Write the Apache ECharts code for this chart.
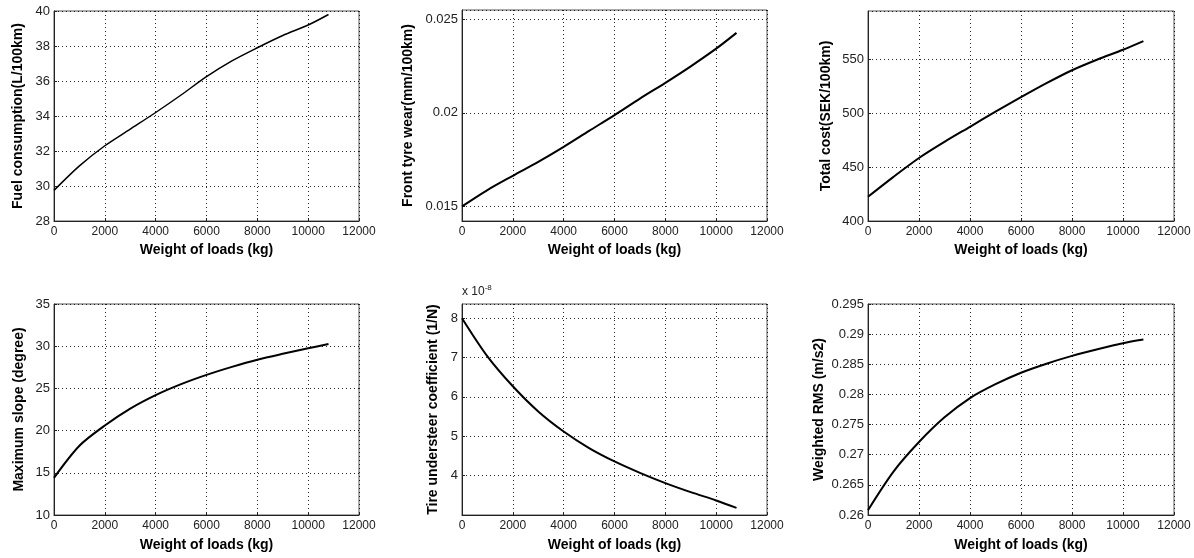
<!DOCTYPE html>
<html>
<head>
<meta charset="utf-8">
<script src="https://cdn.jsdelivr.net/npm/echarts@6/dist/echarts.min.js"></script>
<style>
html,body{margin:0;padding:0;background:#fff;}
#c{width:1194px;height:558px;}
</style>
</head>
<body>
<div id="c"></div>
<script>
// Weight of loads (kg)
var loads = [0, 1000, 2000, 3000, 4000, 5000, 6000, 7000, 8000, 9000, 10000, 10800];
// Fuel consumption (L/100km)
var fuel = [29.75, 31.15, 32.3, 33.25, 34.2, 35.2, 36.25, 37.15, 37.9, 38.6, 39.2, 39.8];
// Front tyre wear (mm/100km)
var tyreWear = [0.01502, 0.01589, 0.01665, 0.01739, 0.01819, 0.01904, 0.01988, 0.02076, 0.0216, 0.02248, 0.02342, 0.02426];
// Total cost (SEK/100km)
var totalCost = [422.5, 441.0, 458.5, 473.5, 487.5, 501.5, 515.0, 528.0, 540.0, 550.0, 559.0, 567.0];
// Maximum slope (degree)
var maxSlope = [14.4, 18.2, 20.6, 22.6, 24.2, 25.5, 26.6, 27.55, 28.4, 29.1, 29.75, 30.25];
// Tire understeer coefficient (1/N), in units of 1e-8
var understeer = [8.0, 7.03, 6.27, 5.63, 5.12, 4.70, 4.36, 4.07, 3.81, 3.58, 3.37, 3.18];
// Weighted RMS (m/s2)
var rms = [0.2608, 0.2672, 0.2721, 0.2762, 0.2794, 0.2817, 0.2836, 0.2851, 0.2864, 0.2875, 0.2885, 0.2891];

var xTitle = 'Weight of loads (kg)';
var yTitles = ['Fuel consumption(L/100km)', 'Front tyre wear(mm/100km)', 'Total cost(SEK/100km)',
               'Maximum slope (degree)', 'Tire understeer coefficient (1/N)', 'Weighted RMS (m/s2)'];
var seriesData = [fuel, tyreWear, totalCost, maxSlope, understeer, rms];

var FONT = 'Liberation Sans, Arial, sans-serif';
var grids = [
  {left: 54,  top: 11,  width: 305, height: 210},
  {left: 462, top: 10,  width: 305, height: 211},
  {left: 868, top: 11,  width: 306, height: 210},
  {left: 54,  top: 304, width: 305, height: 211},
  {left: 462, top: 304, width: 305, height: 211},
  {left: 868, top: 304, width: 306, height: 211}
];
var yCfg = [
  {min: 28, max: 40, interval: 2, gap: 29},
  {min: 0.01424, max: 0.02548, splitNumber: 2, gap: 47, hideEnds: true},
  {min: 400, max: 595, interval: 50, gap: 35, hideMax: true},
  {min: 10, max: 35, interval: 5, gap: 28},
  {min: 3, max: 8.36, interval: 1, gap: 22, hideEnds: true},
  {min: 0.26, max: 0.295, interval: 0.005, gap: 42}
];
var xGaps = [22, 22, 22, 23, 23, 23];

var splitStyle = {show: true, lineStyle: {color: '#000', type: [1, 3], width: 1, opacity: 0.85}};

var option = {
  backgroundColor: '#fff',
  animation: false,
  grid: grids.map(function (g) {
    return Object.assign({show: true, borderColor: '#555', borderWidth: 1, backgroundColor: '#fff', containLabel: false}, g);
  }),
  xAxis: grids.map(function (g, i) {
    return {
      type: 'value', gridIndex: i, min: 0, max: 12000, interval: 2000,
      name: xTitle, nameLocation: 'middle', nameGap: xGaps[i],
      nameTextStyle: {fontFamily: FONT, fontSize: 14, fontWeight: 'bold', color: '#000'},
      axisLine: {show: true, lineStyle: {color: '#222', width: 1}},
      axisTick: {show: true, inside: true, length: 3, lineStyle: {color: '#222'}},
      axisLabel: {fontFamily: FONT, fontSize: 12, color: '#222', margin: 5,
                  formatter: function (v) { return String(v); }},
      splitLine: splitStyle
    };
  }),
  yAxis: yCfg.map(function (c, i) {
    var ax = {
      type: 'value', gridIndex: i, min: c.min, max: c.max,
      name: yTitles[i], nameLocation: 'middle', nameGap: c.gap, nameRotate: 90,
      nameTextStyle: {fontFamily: FONT, fontSize: 14, fontWeight: 'bold', color: '#000'},
      axisLine: {show: true, lineStyle: {color: '#222', width: 1}},
      axisTick: {show: true, inside: true, length: 3, lineStyle: {color: '#222'}},
      axisLabel: {fontFamily: FONT, fontSize: 13, color: '#222', margin: 4,
                  showMinLabel: !c.hideEnds, showMaxLabel: !(c.hideEnds || c.hideMax)},
      splitLine: splitStyle
    };
    if (c.interval) ax.interval = c.interval;
    if (c.splitNumber) ax.splitNumber = c.splitNumber;
    return ax;
  }),
  series: seriesData.map(function (d, i) {
    return {
      type: 'line', xAxisIndex: i, yAxisIndex: i, smooth: 0.3, symbol: 'none',
      lineStyle: {color: '#000', width: i === 0 ? 1.5 : 2},
      data: loads.map(function (x, k) { return [x, d[k]]; })
    };
  }),
  graphic: [{
    type: 'text', left: 462, top: 284,
    style: {
      text: '{b|x 10}{s|-8}',
      rich: {
        b: {fontFamily: FONT, fontSize: 12, fill: '#222'},
        s: {fontFamily: FONT, fontSize: 8, fill: '#222', verticalAlign: 'top', padding: [0, 0, 8, 0]}
      }
    }
  }]
};

var chart = echarts.init(document.getElementById('c'), null, {renderer: 'canvas'});
chart.setOption(option);
</script>
</body>
</html>
